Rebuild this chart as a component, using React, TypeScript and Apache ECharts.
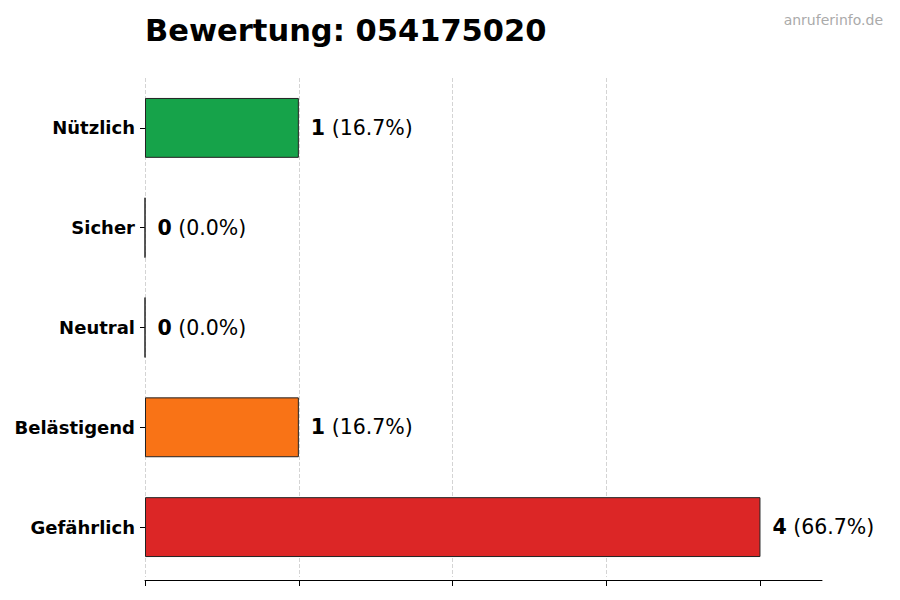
import { useEffect, useRef } from "react";
import * as echarts from "echarts";

// Bewertungen, von oben nach unten
const CATEGORIES = ["Nützlich", "Sicher", "Neutral", "Belästigend", "Gefährlich"];
const COUNTS = [1, 0, 0, 1, 4];
const COLORS = ["#16a34a", "#22c55e", "#6b7280", "#f97316", "#dc2626"];
const X_TICKS = [0, 1, 2, 3, 4];

const FONT = "DejaVu Sans";

export default function App() {
  const ref = useRef<HTMLDivElement>(null);

  useEffect(() => {
    if (!ref.current) return;
    const inst = echarts.init(ref.current, undefined, { renderer: "svg" });
    const total = COUNTS.reduce((a, b) => a + b, 0);

    inst.setOption({
      animation: false,
      backgroundColor: "#fff",
      textStyle: { fontFamily: FONT },
      title: [
        {
          text: "Bewertung: 054175020",
          left: 140, top: 10,
          textStyle: { fontFamily: FONT, fontSize: 30.5, fontWeight: "bold", color: "#000" },
        },
        {
          text: "anruferinfo.de",
          right: 12, top: 8,
          textStyle: { fontFamily: FONT, fontSize: 14, fontWeight: "normal", color: "#aaa" },
        },
      ],
      grid: { left: 145, right: 78, top: 78, bottom: 23, containLabel: false },
      xAxis: {
        type: "value", min: 0, max: 4.4, interval: 1,
        offset: 3,
        axisLine: { show: true, lineStyle: { color: "#000", width: 1 } },
        axisTick: { show: true, length: 6, customValues: X_TICKS, lineStyle: { color: "#000" } },
        axisLabel: { show: false },
        splitLine: {
          show: true, showMaxLine: false,
          lineStyle: { color: "#d4d4d4", type: "dashed", width: 1 },
        },
      },
      yAxis: {
        type: "category", data: CATEGORIES, inverse: true,
        axisLine: { show: false },
        axisTick: { show: true, length: 5, alignWithLabel: true, lineStyle: { color: "#000" } },
        axisLabel: { fontFamily: FONT, fontSize: 18, fontWeight: "bold", color: "#000", margin: 10 },
        splitLine: { show: false },
      },
      series: [
        {
          type: "bar",
          data: COUNTS.map((v, i) => ({ value: v, itemStyle: { color: COLORS[i] } })),
          barWidth: "60%",
          itemStyle: { borderColor: "#222", borderWidth: 1 },
          label: {
            show: true, position: "right", distance: 12,
            formatter: (p: { value: number }) =>
              `{b|${p.value}}{n| (${((p.value / total) * 100).toFixed(1)}%)}`,
            rich: {
              b: { fontFamily: FONT, fontSize: 20.5, fontWeight: "bold", color: "#000" },
              n: { fontFamily: FONT, fontSize: 20.5, color: "#000" },
            },
          },
        },
      ],
    });

    return () => inst.dispose();
  }, []);

  return <div ref={ref} style={{ position: "fixed", left: 0, top: 0, width: 900, height: 600 }} />;
}
